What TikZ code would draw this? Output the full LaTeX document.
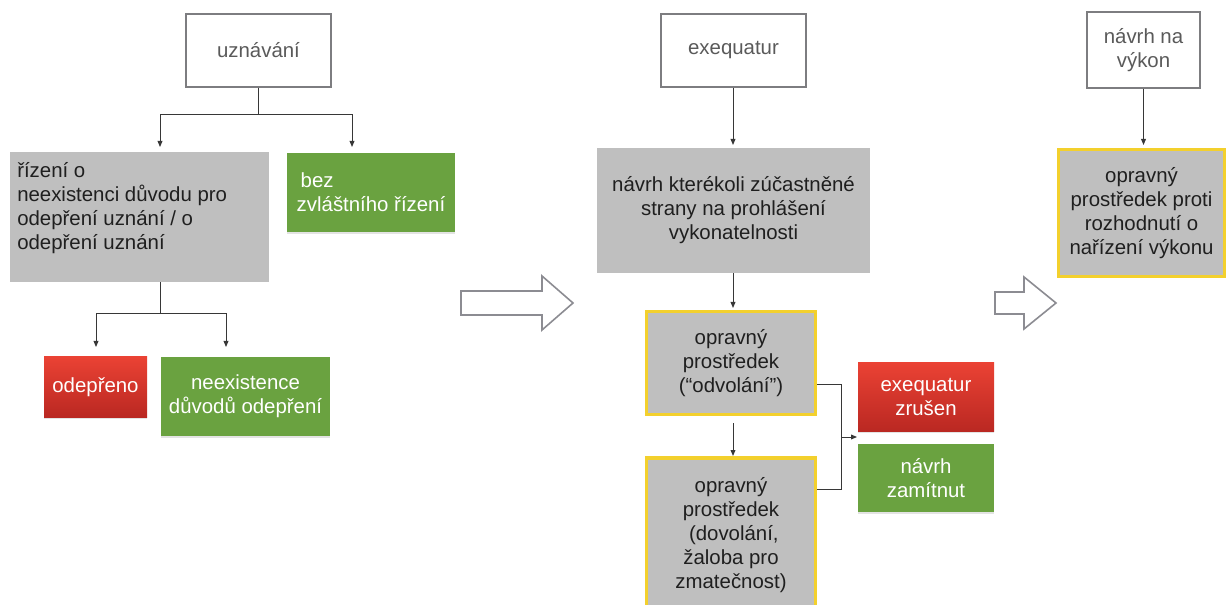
\documentclass[tikz,border=0pt]{standalone}
\usepackage{fontspec}
\setmainfont{Liberation Sans}
\usetikzlibrary{arrows.meta,shadows}
\definecolor{boxgray}{RGB}{191,191,191}
\definecolor{framegray}{RGB}{125,125,128}
\definecolor{txtgray}{RGB}{90,90,90}
\definecolor{yel}{RGB}{243,208,45}
\definecolor{grn}{RGB}{106,162,64}
\definecolor{redtop}{RGB}{234,66,52}
\definecolor{redbot}{RGB}{186,40,34}
\definecolor{conncol}{RGB}{55,55,55}
\definecolor{hollowcol}{RGB}{140,140,146}
\begin{document}
\begin{tikzpicture}[x=0.75pt,y=-0.75pt,
  font=\fontsize{15.3}{18}\selectfont,
  whitebox/.style={draw=framegray, line width=1.1pt, fill=white, text=txtgray, align=center, inner sep=0pt},
  graybox/.style={fill=boxgray, text=black!88, align=center, inner sep=0pt},
  yelbox/.style={graybox, draw=yel, line width=2.6pt},
  softshadow/.style={drop shadow={shadow xshift=0pt, shadow yshift=-1.6pt, opacity=0.22}},
  greenbox/.style={fill=grn, text=white, align=center, inner sep=0pt, softshadow},
  redbox/.style={top color=redtop, bottom color=redbot, text=white, align=center, inner sep=0pt, softshadow},
  conn/.style={draw=conncol, line width=0.7pt},
  arr/.style={conn, -{Triangle[length=4.5pt,width=3.6pt]}},
  hollow/.style={draw=hollowcol, line width=1.2pt, fill=white, line join=miter}
]
\useasboundingbox (0,0) rectangle (1226,605);

% left column
\node[whitebox, minimum width=108.75pt, minimum height=54.75pt] (uzn) at (258.5,50.5) {uznávání};
\node[graybox, minimum width=194.25pt, minimum height=97.5pt] (riz) at (139.5,217) {};
\node[text=black!88, align=left, inner sep=0pt, anchor=north west] (riztxt) at (17,162)
  {řízení o\\neexistenci důvodu pro\\odepření uznání / o\\odepření uznání};
\node[greenbox, align=left, minimum width=126pt, minimum height=59.25pt] (bez) at (371,192.5)
  {\hspace*{3pt}bez\\zvláštního řízení};
\node[redbox, minimum width=77.25pt, minimum height=45pt] (odep) at (95.5,387) {odepřeno};
\node[greenbox, minimum width=126.75pt, minimum height=59.25pt] (neex) at (245.5,396.5)
  {neexistence\\důvodů odepření};

\coordinate (j1) at (258.5,114);
\coordinate (a1) at (160,147);
\coordinate (a2) at (352,147);
\draw[conn] (uzn.south) -- (j1);
\draw[arr] (j1) -| (a1);
\draw[arr] (j1) -| (a2);

\coordinate (j2) at (160,313);
\coordinate (a3) at (96,347);
\coordinate (a4) at (226,347);
\draw[conn] (riz.south -| j2) -- (j2);
\draw[arr] (j2) -| (a3);
\draw[arr] (j2) -| (a4);

% hollow arrows
\draw[hollow] (461,291) -- (542,291) -- (542,276) -- (573,303) -- (542,330) -- (542,315) -- (461,315) -- cycle;
\draw[hollow] (995,292) -- (1024,292) -- (1024,277) -- (1056,303) -- (1024,329) -- (1024,314) -- (995,314) -- cycle;

% middle column
\node[whitebox, minimum width=108.75pt, minimum height=54.75pt] (exeq) at (733.5,50.5) {exequatur};
\node[graybox, minimum width=204.75pt, minimum height=93.75pt] (navrh) at (733.5,210.5)
  {návrh kterékoli zúčastněné\\strany na prohlášení\\vykonatelnosti};
\node[yelbox, minimum width=126.75pt, minimum height=77.25pt] (opr1) at (731,363)
  {opravný\\prostředek\\(“odvolání”)};
\node[yelbox, minimum width=126.75pt, minimum height=115.5pt] (opr2) at (731,535)
  {opravný\\prostředek\\\ (dovolání,\\žaloba pro\\zmatečnost)};
\node[redbox, minimum width=102pt, minimum height=51pt] (zrus) at (926,397) {exequatur\\zrušen};
\node[greenbox, minimum width=102pt, minimum height=51pt] (zam) at (926,478) {návrh\\zamítnut};

\coordinate (e1) at (733,145);
\draw[arr] (exeq.south -| e1) -- (e1);
\coordinate (e2) at (733,308);
\draw[arr] (navrh.south -| e2) -- (e2);
\coordinate (e3s) at (733,423);
\coordinate (e3) at (733,456);
\draw[arr] (e3s) -- (e3);
\coordinate (k1) at (841,384);
\coordinate (k2) at (841,489);
\coordinate (k3) at (841,437);
\coordinate (k4) at (857,437);
\draw[conn] (opr1.east |- k1) -- (k1) -- (k2) -- (opr2.east |- k2);
\draw[arr] (k3) -- (k4);

% right column
\node[whitebox, minimum width=84.75pt, minimum height=57pt] (vyk) at (1143.5,50) {návrh na\\výkon};
\node[yelbox, minimum width=124.5pt, minimum height=95.25pt] (opr3) at (1141.5,213)
  {opravný\\prostředek proti\\rozhodnutí o\\nařízení výkonu};
\coordinate (v1) at (1143.5,145);
\draw[arr] (vyk.south) -- (v1);
\end{tikzpicture}
\end{document}
